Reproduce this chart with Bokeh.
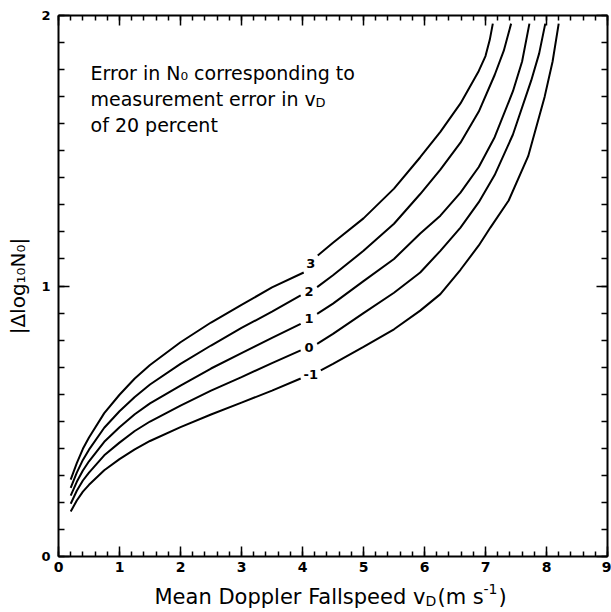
from bokeh.plotting import figure
from bokeh.layouts import column
from bokeh.models import Range1d, LinearAxis, FixedTicker, CustomJSTickFormatter, Label
from bokeh.embed import file_html
from bokeh.resources import INLINE
from bokeh.core.properties import value

# ---------------- data ----------------
curve_labels = ["3", "2", "1", "0", "-1"]

x_c3 = [0.2, 0.3, 0.4, 0.5, 0.75, 1.0, 1.25, 1.5, 2.0, 2.5, 3.0, 3.5, 4.02,
        4.25, 4.5, 5.0, 5.5, 5.93, 6.26, 6.59, 6.89, 7.0, 7.07, 7.12]
y_c3 = [0.284, 0.345, 0.398, 0.44, 0.53, 0.598, 0.658, 0.708, 0.792, 0.865, 0.93, 0.995, 1.05,
        1.113, 1.16, 1.25, 1.36, 1.476, 1.57, 1.675, 1.795, 1.85, 1.91, 1.97]

x_c2 = [0.2, 0.3, 0.4, 0.5, 0.75, 1.0, 1.25, 1.5, 2.0, 2.5, 3.0, 3.5, 3.97,
        4.24, 4.5, 5.0, 5.5, 5.93, 6.26, 6.59, 6.89, 7.15, 7.3, 7.42]
y_c2 = [0.254, 0.31, 0.357, 0.395, 0.476, 0.537, 0.59, 0.636, 0.712, 0.78, 0.845, 0.905, 0.965,
        0.996, 1.04, 1.13, 1.23, 1.34, 1.43, 1.53, 1.645, 1.78, 1.87, 1.97]

x_c1 = [0.2, 0.3, 0.4, 0.5, 0.75, 1.0, 1.25, 1.5, 2.0, 2.5, 3.0, 3.5, 3.97,
        4.24, 4.5, 5.0, 5.5, 5.93, 6.26, 6.59, 6.89, 7.15, 7.45, 7.6, 7.72]
y_c1 = [0.225, 0.276, 0.318, 0.352, 0.424, 0.478, 0.526, 0.566, 0.632, 0.695, 0.752, 0.808, 0.86,
        0.897, 0.935, 1.018, 1.10, 1.194, 1.26, 1.345, 1.44, 1.55, 1.72, 1.83, 1.97]

x_c0 = [0.2, 0.3, 0.4, 0.5, 0.75, 1.0, 1.25, 1.5, 2.0, 2.5, 3.0, 3.5, 3.97,
        4.24, 4.5, 5.0, 5.5, 5.93, 6.26, 6.59, 6.89, 7.15, 7.45, 7.75, 7.88, 7.98]
y_c0 = [0.195, 0.243, 0.281, 0.31, 0.374, 0.421, 0.464, 0.499, 0.558, 0.613, 0.663, 0.715, 0.762,
        0.786, 0.823, 0.90, 0.975, 1.05, 1.13, 1.216, 1.31, 1.41, 1.56, 1.76, 1.86, 1.97]

x_cm1 = [0.2, 0.3, 0.4, 0.5, 0.75, 1.0, 1.25, 1.5, 2.0, 2.5, 3.0, 3.5, 3.97,
         4.3, 4.5, 5.0, 5.5, 5.93, 6.26, 6.59, 6.89, 7.08, 7.38, 7.7, 7.97, 8.1, 8.2]
y_cm1 = [0.166, 0.207, 0.24, 0.265, 0.319, 0.36, 0.396, 0.427, 0.478, 0.525, 0.569, 0.613, 0.658,
         0.688, 0.712, 0.775, 0.84, 0.909, 0.97, 1.06, 1.15, 1.216, 1.316, 1.48, 1.70, 1.83, 1.97]

x_major_ticks = [0, 1, 2, 3, 4, 5, 6, 7, 8, 9]
x_minor_ticks = [i / 5 for i in range(46)]
y_major_ticks = [0, 1, 2]
y_minor_ticks = [i / 10 for i in range(21)]

# ---------------- figure ----------------
FONT = "DejaVu Sans"
GAP_X = 4.1  # curves are broken here to make room for their inline labels

p = figure(width=611, height=576, x_range=Range1d(0, 9), y_range=Range1d(0, 2),
           output_backend="svg", toolbar_location=None,
           min_border_left=58, min_border_right=4, min_border_top=15, min_border_bottom=20)
p.xgrid.grid_line_color = None
p.ygrid.grid_line_color = None
p.outline_line_color = None
p.background_fill_color = "white"
p.border_fill_color = "white"

bottom_axis = p.below[0]
left_axis = p.left[0]
top_axis = LinearAxis()
right_axis = LinearAxis()
p.add_layout(top_axis, "above")
p.add_layout(right_axis, "right")

for ax in (bottom_axis, top_axis):
    ax.ticker = FixedTicker(ticks=x_major_ticks, minor_ticks=x_minor_ticks)
    ax.major_tick_in = 10
    ax.minor_tick_in = 5
for ax in (left_axis, right_axis):
    ax.ticker = FixedTicker(ticks=y_major_ticks, minor_ticks=y_minor_ticks)
    ax.major_tick_in = 11
    ax.minor_tick_in = 6

for ax in (bottom_axis, top_axis, left_axis, right_axis):
    ax.major_tick_out = 0
    ax.minor_tick_out = 0
    ax.axis_line_width = 2
    ax.axis_line_color = "black"
    ax.major_tick_line_width = 1.5
    ax.minor_tick_line_width = 1.5
    ax.major_tick_line_color = "black"
    ax.minor_tick_line_color = "black"
    ax.major_label_text_font = FONT
    ax.major_label_text_font_style = "bold"
    ax.major_label_text_font_size = "13px"
    ax.major_label_text_color = "black"

for ax in (top_axis, right_axis):
    ax.formatter = CustomJSTickFormatter(code="return ''")
    ax.major_label_text_font_size = "0px"
    ax.major_label_standoff = 0

bottom_axis.major_label_text_font_size = "14px"
bottom_axis.major_label_standoff = 5
left_axis.major_label_standoff = 8
left_axis.axis_label = "|Δlog₁₀N₀|"
left_axis.axis_label_text_font = FONT
left_axis.axis_label_text_font_style = "normal"
left_axis.axis_label_text_font_size = "20px"
left_axis.axis_label_text_color = "black"
left_axis.axis_label_standoff = 8

# ---------------- curves ----------------
curves = [(x_c3, y_c3), (x_c2, y_c2), (x_c1, y_c1), (x_c0, y_c0), (x_cm1, y_cm1)]
lab_x, lab_y = [], []
for xs, ys in curves:
    lx = [x for x in xs if x < GAP_X]
    ly = [y for x, y in zip(xs, ys) if x < GAP_X]
    rx = [x for x in xs if x > GAP_X]
    ry = [y for x, y in zip(xs, ys) if x > GAP_X]
    p.line(lx, ly, line_color="black", line_width=2)
    p.line(rx, ry, line_color="black", line_width=2)
    lab_x.append((lx[-1] + rx[0]) / 2)
    lab_y.append((ly[-1] + ry[0]) / 2)

p.text(x=lab_x, y=lab_y, text=curve_labels, text_font=value(FONT),
       text_font_size="13px", text_font_style="bold", text_align="center",
       text_baseline="middle", text_color="black")

# ---------------- annotation text ----------------
def lab(fig, x, y, text, size, xo=0, yo=0):
    fig.add_layout(Label(x=x, y=y, x_offset=xo, y_offset=yo, text=text,
                         text_font=FONT, text_font_size=size, text_font_style="normal",
                         text_color="black", text_baseline="alphabetic", text_align="left"))

lab(p, 0.525, 1.786, "Error in N₀ corresponding to", "19px")
lab(p, 0.525, 1.693, "measurement error in v", "19px")
lab(p, 0.525, 1.693, "D", "13px", xo=225, yo=-4)
lab(p, 0.525, 1.597, "of 20 percent", "19px")

# ---------------- x-axis title strip (frame aligned with the plot frame) ----------------
q = figure(width=611, height=36, x_range=p.x_range, y_range=Range1d(0, 36),
           output_backend="svg", toolbar_location=None,
           min_border_left=58, min_border_right=4, min_border_top=0, min_border_bottom=0)
q.axis.visible = False
q.xgrid.grid_line_color = None
q.ygrid.grid_line_color = None
q.outline_line_color = None
q.background_fill_color = "white"
q.border_fill_color = "white"

base = 16  # baseline height inside the strip
lab(q, 0, base, "Mean Doppler Fallspeed v", "21px", xo=96)
lab(q, 0, base - 4, "D", "14px", xo=367)
lab(q, 0, base, "(m s", "21px", xo=379)
lab(q, 0, base + 8, "-1", "14px", xo=425)
lab(q, 0, base, ")", "21px", xo=440)

layout = column(p, q, spacing=0)
open("out.html", "w").write(file_html(layout, INLINE))
